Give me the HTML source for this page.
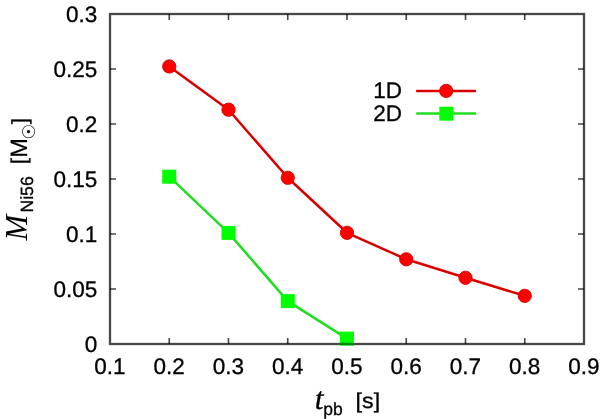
<!DOCTYPE html>
<html><head><meta charset="utf-8"><style>
html,body{margin:0;padding:0;background:#fff;}
svg{display:block;}
text{text-rendering:geometricPrecision;stroke:#000;stroke-width:0.3px;font-family:"Liberation Sans",Arial,sans-serif;font-size:22.5px;fill:#000;}
.it{font-family:"Liberation Serif",serif;font-style:italic;}
</style></head><body>
<svg width="600" height="419" viewBox="0 0 600 419">
<rect width="600" height="419" fill="#fff"/>
<text transform="translate(97.20,351.70) scale(1.0,1.0)" text-anchor="end">0</text>
<text transform="translate(97.20,296.70) scale(1.0,1.0)" text-anchor="end">0.05</text>
<text transform="translate(97.20,241.70) scale(1.0,1.0)" text-anchor="end">0.1</text>
<text transform="translate(97.20,186.70) scale(1.0,1.0)" text-anchor="end">0.15</text>
<text transform="translate(97.20,131.70) scale(1.0,1.0)" text-anchor="end">0.2</text>
<text transform="translate(97.20,76.70) scale(1.0,1.0)" text-anchor="end">0.25</text>
<text transform="translate(97.20,21.70) scale(1.0,1.0)" text-anchor="end">0.3</text>
<text transform="translate(110.00,374.00) scale(1.0,1.0)" text-anchor="middle">0.1</text>
<text transform="translate(169.25,374.00) scale(1.0,1.0)" text-anchor="middle">0.2</text>
<text transform="translate(228.50,374.00) scale(1.0,1.0)" text-anchor="middle">0.3</text>
<text transform="translate(287.75,374.00) scale(1.0,1.0)" text-anchor="middle">0.4</text>
<text transform="translate(347.00,374.00) scale(1.0,1.0)" text-anchor="middle">0.5</text>
<text transform="translate(406.25,374.00) scale(1.0,1.0)" text-anchor="middle">0.6</text>
<text transform="translate(465.50,374.00) scale(1.0,1.0)" text-anchor="middle">0.7</text>
<text transform="translate(524.75,374.00) scale(1.0,1.0)" text-anchor="middle">0.8</text>
<text transform="translate(584.00,374.00) scale(1.0,1.0)" text-anchor="middle">0.9</text>

<g fill="none" stroke="#000" stroke-opacity="0.72" stroke-width="1.6"><path d="M169.25 344V338M169.25 14V20M228.50 344V338M228.50 14V20M287.75 344V338M287.75 14V20M347.00 344V338M347.00 14V20M406.25 344V338M406.25 14V20M465.50 344V338M465.50 14V20M524.75 344V338M524.75 14V20M110 289.00H116M584 289.00H578M110 234.00H116M584 234.00H578M110 179.00H116M584 179.00H578M110 124.00H116M584 124.00H578M110 69.00H116M584 69.00H578"/></g>
<g fill="none" stroke="#f20000" stroke-width="2.5" stroke-linejoin="round" stroke-linecap="round"><polyline points="169.25,66.47 228.50,109.70 287.75,177.79 347.00,232.79 406.25,259.30 465.50,277.78 524.75,295.82"/><path d="M417.2 91.1H475"/></g>
<g fill="none" stroke="#c20000" stroke-width="1.1" stroke-linejoin="round" stroke-linecap="round"><polyline points="169.25,66.47 228.50,109.70 287.75,177.79 347.00,232.79 406.25,259.30 465.50,277.78 524.75,295.82"/><path d="M417.2 91.1H475"/></g>
<g fill="#ff0000" stroke="#d80000" stroke-width="0.9"><circle cx="169.25" cy="66.47" r="6.65"/>
<circle cx="228.50" cy="109.70" r="6.65"/>
<circle cx="287.75" cy="177.79" r="6.65"/>
<circle cx="347.00" cy="232.79" r="6.65"/>
<circle cx="406.25" cy="259.30" r="6.65"/>
<circle cx="465.50" cy="277.78" r="6.65"/>
<circle cx="524.75" cy="295.82" r="6.65"/><circle cx="446.2" cy="90.9" r="6.65"/></g>
<g fill="none" stroke="#20dd20" stroke-width="2.5" stroke-linejoin="round" stroke-linecap="round"><polyline points="169.25,176.69 228.50,232.90 287.75,301.10 347.00,338.61"/><path d="M417.2 113.4H475"/></g>
<g fill="#00ff00"><rect x="162.25" y="169.69" width="14" height="14"/>
<rect x="221.50" y="225.90" width="14" height="14"/>
<rect x="280.75" y="294.10" width="14" height="14"/>
<rect x="340.00" y="331.61" width="14" height="14"/><rect x="439.3" y="106.7" width="14" height="14"/></g>
<g fill="none" stroke="#000" stroke-opacity="0.72" stroke-width="2.3"><rect x="110" y="14" width="474" height="330"/></g>
<rect x="340.00" y="342.9" width="14" height="2.2" fill="#00ff00" fill-opacity="0.35"/>
<text transform="translate(402.00,98.40) scale(1.0,1.0)" text-anchor="end">1D</text>
<text transform="translate(402.00,121.40) scale(1.0,1.0)" text-anchor="end">2D</text>
<g transform="translate(26.9,240.5) rotate(-90) scale(0.965,1)"><text x="0" y="0" class="it" style="font-size:32px;stroke-width:0">M</text></g>
<g transform="translate(33.2,212.6) rotate(-90)"><text x="0" y="0" style="font-size:17.7px">Ni56</text></g>
<g transform="translate(26.4,164.0) rotate(-90)"><text x="0" y="0" style="font-size:21.3px">[</text></g>
<g transform="translate(26.6,157.7) rotate(-90)"><text x="0" y="0" style="font-size:23.5px">M</text></g>
<g transform="translate(26.5,118.2) rotate(-90)"><text x="0" y="0" text-anchor="end" style="font-size:21.8px">]</text></g>
<g transform="translate(35.1,131.6) rotate(-90)"><text x="0" y="0" text-anchor="middle" style="font-family:'DejaVu Sans',sans-serif;font-size:17.6px;stroke-width:0">☉</text></g>
<text x="314.8" y="408.5" class="it" style="font-size:31.5px">t</text>
<text x="323.3" y="414.5" style="font-size:17.5px">pb</text>
<text transform="translate(355.6,408) scale(1.08,1)" style="font-size:21.5px">[s]</text>
</svg>
</body></html>
